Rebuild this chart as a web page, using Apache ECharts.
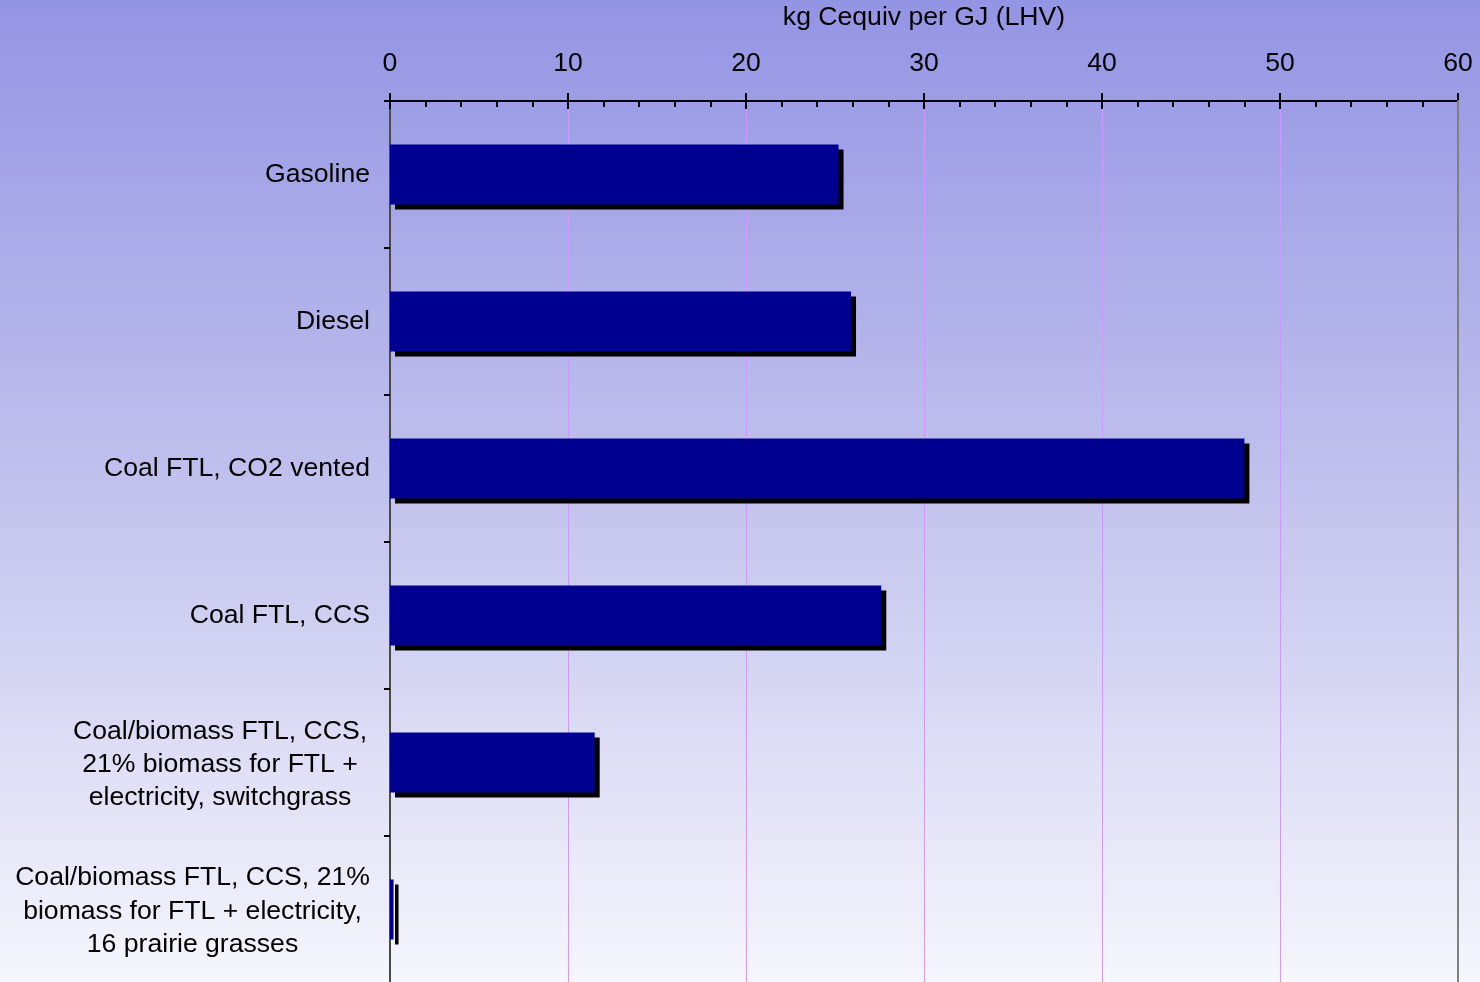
<!DOCTYPE html>
<html>
<head>
<meta charset="utf-8">
<script src="https://cdn.jsdelivr.net/npm/echarts@6/dist/echarts.min.js"></script>
<style>
html,body{margin:0;padding:0;}
#c{width:1480px;height:982px;}
</style>
</head>
<body>
<div id="c"></div>
<script>
const categories = [
  'Gasoline',
  'Diesel',
  'Coal FTL, CO2 vented',
  'Coal FTL, CCS',
  'Coal/biomass FTL, CCS,\n21% biomass for FTL +\nelectricity, switchgrass',
  'Coal/biomass FTL, CCS, 21%\nbiomass for FTL + electricity,\n16 prairie grasses'
];
const values = [25.2, 25.9, 48.0, 27.6, 11.5, 0.2];
const axisTitle = 'kg Cequiv per GJ (LHV)';
const xMin = 0, xMax = 60, xInterval = 10;

const font = 'Liberation Sans, Arial, sans-serif';
const fs = 26.6;
const chart = echarts.init(document.getElementById('c'));
chart.setOption({
  backgroundColor: {
    type: 'linear', x: 0, y: 0, x2: 0, y2: 1,
    colorStops: [{offset: 0, color: '#9494E4'}, {offset: 0.5, color: '#C2C2EE'}, {offset: 1, color: '#F6F6FD'}]
  },
  animation: false,
  grid: {left: 390, right: 22, top: 101, height: 882, outerBoundsMode: 'none', containLabel: false},
  xAxis: [{
    type: 'value', position: 'top', min: xMin, max: xMax, interval: xInterval,
    name: axisTitle, nameLocation: 'middle', nameGap: 70, nameMoveOverlap: false,
    nameTextStyle: {fontFamily: font, fontSize: fs, color: '#000'},
    axisLine: {show: true, onZero: false, lineStyle: {color: '#000', width: 2}},
    axisTick: {show: true, inside: false, length: 8, lineStyle: {color: '#000', width: 2}},
    axisLabel: {fontFamily: font, fontSize: fs, color: '#000', margin: 24},
    splitLine: {show: true, lineStyle: {color: '#CC99FF', width: 1}}
  }, {
    type: 'value', position: 'top', min: xMin, max: xMax, interval: xInterval,
    axisLine: {show: false, onZero: false},
    axisTick: {show: true, inside: true, length: 8, lineStyle: {color: '#000', width: 2}},
    minorTick: {show: true, splitNumber: 5, length: 6, lineStyle: {color: '#000', width: 2}},
    axisLabel: {show: false},
    splitLine: {show: false}
  }],
  yAxis: [{
    type: 'category', data: categories, inverse: true, position: 'left',
    axisLine: {show: true, onZero: false, lineStyle: {color: '#4a4a4a', width: 2}},
    axisTick: {show: true, length: 6, lineStyle: {color: '#000', width: 2}},
    axisLabel: {
      fontFamily: font, fontSize: fs, color: '#000', margin: 20, lineHeight: 33,
      formatter: function (v, i) {
        if (i === 4) return v.split('\n').map(l => '{b|' + l + '}').join('\n');
        if (i === 5) return v.split('\n').map(l => '{c|' + l + '}').join('\n');
        return v;
      },
      rich: {
        b: {width: 300, align: 'center', fontFamily: font, fontSize: fs, lineHeight: 33, color: '#000', padding: [4, 0, 0, 0]},
        c: {width: 355, align: 'center', fontFamily: font, fontSize: fs, lineHeight: 33.5, color: '#000', padding: [4, 0, 0, 0]}
      }
    }
  }, {
    type: 'category', data: categories, inverse: true, position: 'right', z: 10,
    axisLine: {show: true, onZero: false, lineStyle: {color: '#808080', width: 2}},
    axisTick: {show: false}, axisLabel: {show: false}, splitLine: {show: false}
  }],
  series: [{
    type: 'bar', data: values, barWidth: 60, xAxisIndex: 0, yAxisIndex: 0,
    itemStyle: {color: '#000090', shadowColor: '#000', shadowBlur: 0, shadowOffsetX: 5, shadowOffsetY: 5}
  }]
});
</script>
</body>
</html>
